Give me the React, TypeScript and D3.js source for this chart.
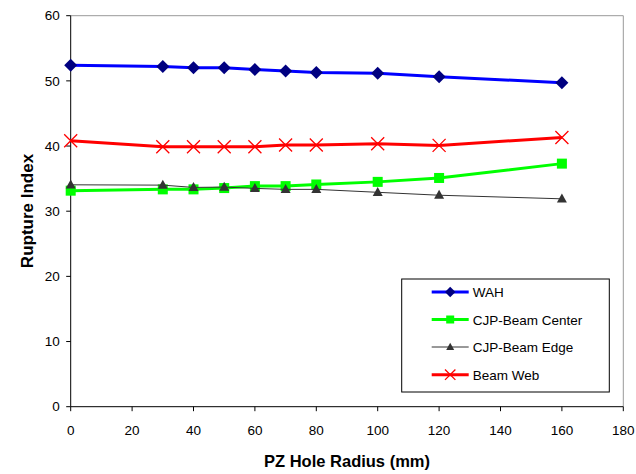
import React from "react";
import * as d3 from "d3";

const radius = [0, 30, 40, 50, 60, 70, 80, 100, 120, 160];
const wah = [52.4, 52.2, 52.0, 52.0, 51.75, 51.5, 51.3, 51.15, 50.65, 49.7];
const cjpCenter = [33.15, 33.35, 33.35, 33.55, 33.85, 33.85, 34.1, 34.5, 35.1, 37.3];
const cjpEdge = [34.05, 34.0, 33.65, 33.7, 33.5, 33.35, 33.35, 32.9, 32.45, 31.9];
const beamWeb = [40.8, 39.9, 39.9, 39.9, 39.9, 40.15, 40.15, 40.35, 40.1, 41.3];
const xTicks = [0, 20, 40, 60, 80, 100, 120, 140, 160, 180];
const yTicks = [0, 10, 20, 30, 40, 50, 60];

const seriesNames = ["WAH", "CJP-Beam Center", "CJP-Beam Edge", "Beam Web"];

type Kind = "diamond" | "square" | "triangle" | "x";
interface S { name: string; values: number[]; line: string; lw: number; kind: Kind; fill: string; }

const series: S[] = [
  { name: seriesNames[0], values: wah, line: "#0000FF", lw: 3, kind: "diamond", fill: "#000080" },
  { name: seriesNames[1], values: cjpCenter, line: "#00FF00", lw: 3, kind: "square", fill: "#00FF00" },
  { name: seriesNames[2], values: cjpEdge, line: "#333333", lw: 1, kind: "triangle", fill: "#333333" },
  { name: seriesNames[3], values: beamWeb, line: "#FF0000", lw: 3, kind: "x", fill: "#FF0000" },
];

const FONT = "Liberation Sans, Arial, sans-serif";

function Marker({ kind, cx, cy, color, s }: { kind: Kind; cx: number; cy: number; color: string; s: number }) {
  if (kind === "diamond") {
    const w = 6.5 * s, h = 6.5 * s;
    return <path d={`M${cx},${cy - h}L${cx + w},${cy}L${cx},${cy + h}L${cx - w},${cy}Z`} fill={color} />;
  }
  if (kind === "square") {
    const r = 5 * s;
    return <rect x={cx - r} y={cy - r} width={2 * r} height={2 * r} fill={color} />;
  }
  if (kind === "triangle") {
    const w = 5 * s, h = 9 * s;
    return <path d={`M${cx},${cy - h * 0.6}L${cx + w},${cy + h * 0.4}L${cx - w},${cy + h * 0.4}Z`} fill={color} />;
  }
  const r = 6.5 * s;
  return (
    <path d={`M${cx - r},${cy - r}L${cx + r},${cy + r}M${cx - r},${cy + r}L${cx + r},${cy - r}`} stroke={color} strokeWidth={1.3} fill="none" />
  );
}

export default function App() {
  const W = 636, H = 474;
  const left = 70.7, right = 623.3, top = 15.7, bottom = 406.7;
  const x = d3.scaleLinear().domain([0, 180]).range([left, right]);
  const y = d3.scaleLinear().domain([0, 60]).range([bottom, top]);
  const line = d3.line<number>().x((_, i) => x(radius[i])).y((v) => y(v));

  const lg = { x: 401.7, y: 279, w: 207.6, h: 113 };
  const legendY = [292, 319.5, 347, 374.7];

  return (
    <svg width={W} height={H} style={{ position: "absolute", left: 0, top: 0 }}>
      <rect width={W} height={H} fill="#fff" />
      {/* plot border top/right */}
      <path d={`M${left},${top}H${right}V${bottom}`} stroke="#999" strokeWidth={1} fill="none" />
      {/* axes */}
      <line x1={left} x2={left} y1={top} y2={bottom} stroke="#000" strokeWidth={1} />
      <line x1={left} x2={right} y1={bottom} y2={bottom} stroke="#000" strokeWidth={1} />
      {yTicks.map((t) => (
        <g key={"y" + t}>
          <line x1={left - 4.5} x2={left} y1={y(t)} y2={y(t)} stroke="#000" />
          <text x={left - 11} y={y(t) + 4.7} textAnchor="end" fontFamily={FONT} fontSize={13.5} fill="#000">{t}</text>
        </g>
      ))}
      {xTicks.map((t) => (
        <g key={"x" + t}>
          <line x1={x(t)} x2={x(t)} y1={bottom} y2={bottom + 4.5} stroke="#000" />
          <text x={x(t)} y={435} textAnchor="middle" fontFamily={FONT} fontSize={13.5} fill="#000">{t}</text>
        </g>
      ))}
      <text x={(left + right) / 2} y={467} textAnchor="middle" fontFamily={FONT} fontWeight="bold" fontSize={16.5} fill="#000">PZ Hole Radius (mm)</text>
      <text transform={`translate(33,211) rotate(-90)`} textAnchor="middle" fontFamily={FONT} fontWeight="bold" fontSize={17} fill="#000">Rupture Index</text>
      {/* series */}
      {series.map((s) => (
        <g key={s.name}>
          <path d={line(s.values) || ""} stroke={s.line} strokeWidth={s.lw} fill="none" />
          {s.values.map((v, i) => (
            <Marker key={i} kind={s.kind} cx={x(radius[i])} cy={y(v)} color={s.fill} s={1} />
          ))}
        </g>
      ))}
      {/* legend */}
      <rect x={lg.x} y={lg.y} width={lg.w} height={lg.h} fill="#fff" stroke="#000" strokeWidth={1} />
      {series.map((s, i) => (
        <g key={"lg" + s.name}>
          <line x1={431.7} x2={468.7} y1={legendY[i]} y2={legendY[i]} stroke={s.line} strokeWidth={s.lw} />
          <Marker kind={s.kind} cx={450.2} cy={legendY[i]} color={s.fill} s={0.8} />
          <text x={472.7} y={legendY[i] + 5} fontFamily={FONT} fontSize={13.5} fill="#000">{s.name}</text>
        </g>
      ))}
    </svg>
  );
}
